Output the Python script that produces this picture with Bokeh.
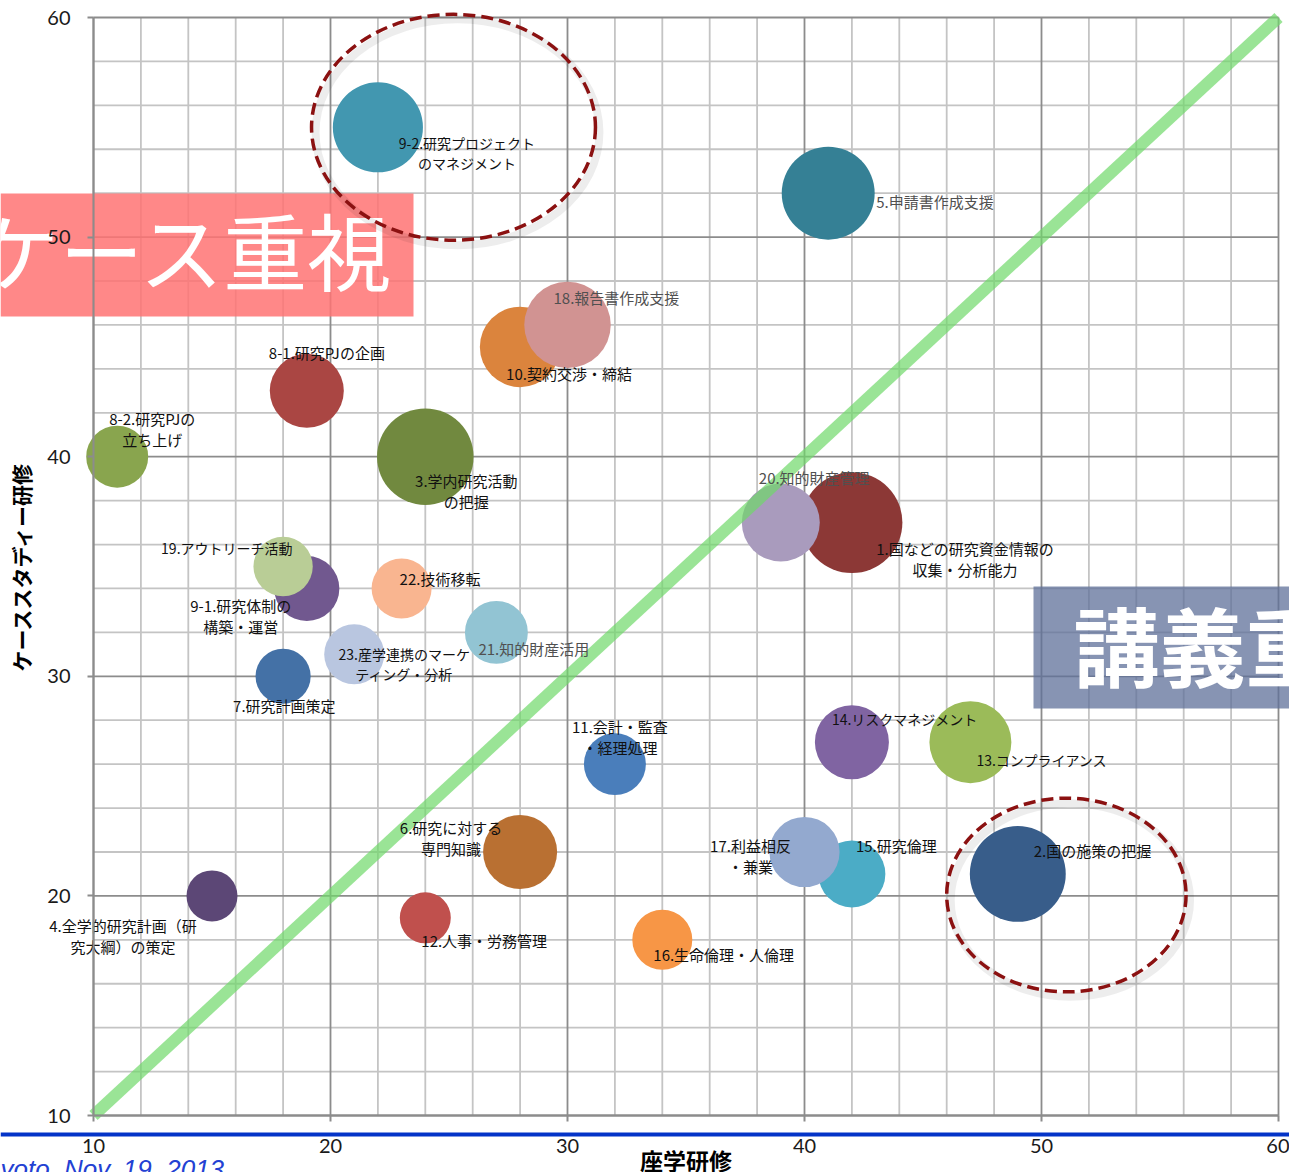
import math
from bokeh.plotting import figure
from bokeh.models import SingleIntervalTicker, ColumnDataSource, Range1d, LinearAxis
from bokeh.core.properties import value
from bokeh.embed import file_html
from bokeh.resources import INLINE

# ---------------- data ----------------
items = ["1", "2", "3", "4", "5", "6", "7", "8-1", "8-2", "9-1", "9-2", "10", "11",
         "12", "13", "14", "15", "16", "17", "18", "19", "20", "21", "22", "23"]
names = [
    "1.国などの研究資金情報の\n収集・分析能力",
    "2.国の施策の把握",
    "3.学内研究活動\nの把握",
    "4.全学的研究計画（研\n究大綱）の策定",
    "5.申請書作成支援",
    "6.研究に対する\n専門知識",
    "7.研究計画策定",
    "8-1.研究PJの企画",
    "8-2.研究PJの\n立ち上げ",
    "9-1.研究体制の\n構築・運営",
    "9-2.研究プロジェクト\nのマネジメント",
    "10.契約交渉・締結",
    "11.会計・監査\n・経理処理",
    "12.人事・労務管理",
    "13.コンプライアンス",
    "14.リスクマネジメント",
    "15.研究倫理",
    "16.生命倫理・人倫理",
    "17.利益相反\n・兼業",
    "18.報告書作成支援",
    "19.アウトリーチ活動",
    "20.知的財産管理",
    "21.知的財産活用",
    "22.技術移転",
    "23.産学連携のマーケ\nティング・分析",
]
lecture = [42, 49, 24, 15, 41, 28, 18, 19, 11, 19, 22, 28, 32, 24, 47, 42, 42, 34, 40, 30, 18, 39, 27, 23, 21]
case_study = [37, 21, 40, 20, 52, 22, 30, 43, 40, 34, 55, 45, 26, 19, 27, 27, 21, 18, 22, 46, 35, 37, 32, 34, 31]
bubble = [25.5, 23, 23.3, 6.5, 21.6, 13.7, 7.6, 13.7, 9.6, 10.6, 20.3, 16.2, 9.6,
          6.5, 16.8, 13.7, 11.2, 9.0, 12.3, 18.7, 8.8, 15.2, 9.9, 9.0, 9.0]

x_title = "座学研修"
y_title = "ケーススタディー研修"
x_ticks_every = 10
y_ticks_every = 10
minor_every = 2
x_lim = (10, 60)
y_lim = (10, 60)
case_text = "ケース重視"
lecture_text = "講義重視"
footer_text = "yoto, Nov. 19, 2013"
circled = ["9-2", "2"]

# ---------------- style ----------------
colors = ["#8c3836", "#385d8a", "#71893f", "#5c4776", "#358095", "#b97032", "#4471a6",
          "#aa4643", "#89a54e", "#71588f", "#4297b0", "#db843d", "#4a7ebb", "#c0504d",
          "#9bbb59", "#8064a2", "#4bacc6", "#f79646", "#93a9cf", "#d19392", "#b9cd96",
          "#a99bbd", "#92c4d3", "#f9b590", "#b9c6e0"]
BUBBLE_SCALE = 20.0  # px of diameter per sqrt(size)

# label placement (align, dx px, dy px, colour, font px)
label_style = {
    "1": ("center", 113, 36, "#111111", 15),
    "2": ("left", 16, -23, "#111111", 15),
    "3": ("center", 41, 34, "#111111", 15),
    "4": ("center", -89, 40, "#111111", 15),
    "5": ("left", 48, 8, "#505050", 15),
    "6": ("center", -69, -14, "#111111", 15),
    "7": ("left", -50, 29, "#111111", 15),
    "8-1": ("left", -38, -38, "#111111", 15),
    "8-2": ("center", 35, -28, "#111111", 15),
    "9-1": ("center", -66, 28, "#111111", 15),
    "9-2": ("center", 89, 26, "#111111", 14),
    "10": ("left", -14, 27, "#111111", 15),
    "11": ("center", 5, -27, "#111111", 15),
    "12": ("left", -4, 23, "#111111", 15),
    "13": ("left", 6, 18, "#111111", 14),
    "14": ("left", -20, -23, "#111111", 14),
    "15": ("left", 4, -28, "#111111", 15),
    "16": ("left", -9, 15, "#111111", 15),
    "17": ("center", -54, 4, "#111111", 15),
    "18": ("left", -14, -27, "#505050", 15),
    "19": ("left", -122, -19, "#111111", 14),
    "20": ("left", -22, -45, "#505050", 15),
    "21": ("left", -18, 16, "#505050", 15),
    "22": ("left", -2, -10, "#111111", 15),
    "23": ("center", 50, 10, "#111111", 14),
}
# highlight ellipse offsets from its bubble (data units) and size
ellipse_style = {
    "9-2": (3.19, 0.0, 11.98, 10.29),
    "2": (2.05, -0.96, 10.1, 8.82),
}

JP = "Noto Sans CJK JP"
W, H = 1289, 1172
PX_L, PX_R, PX_T, PX_B = 93, 1278, 17, 1115   # where the axis limits fall on the canvas
sx = (x_lim[1] - x_lim[0]) / (PX_R - PX_L)
sy = (y_lim[1] - y_lim[0]) / (PX_B - PX_T)


def dxp(px):  # canvas px -> data x
    return x_lim[0] + (px - PX_L) * sx


def dyp(py):  # canvas px -> data y
    return y_lim[1] - (py - PX_T) * sy


p = figure(width=W, height=H,
           x_range=Range1d(dxp(0), dxp(W)), y_range=Range1d(dyp(H), dyp(0)),
           x_axis_type=None, y_axis_type=None,
           output_backend="svg", toolbar_location=None,
           min_border=0, min_border_left=0, min_border_right=0,
           min_border_top=0, min_border_bottom=0,
           background_fill_color="white", border_fill_color="white",
           outline_line_color=None)

# ---- grid (minor every 2, major every 10) ----
gx = list(range(x_lim[0], x_lim[1] + 1, minor_every))
gy = list(range(y_lim[0], y_lim[1] + 1, minor_every))
minx = [v for v in gx if v % x_ticks_every]
majx = [v for v in gx if not v % x_ticks_every]
miny = [v for v in gy if v % y_ticks_every]
majy = [v for v in gy if not v % y_ticks_every]
for xs_, ys_, col in ((minx, miny, "#c4c4c4"), (majx, majy, "#8c8c8c")):
    p.segment(x0=xs_, x1=xs_, y0=[y_lim[0]] * len(xs_), y1=[y_lim[1]] * len(xs_),
              line_color=col, line_width=1.8)
    p.segment(x0=[x_lim[0]] * len(ys_), x1=[x_lim[1]] * len(ys_), y0=ys_, y1=ys_,
              line_color=col, line_width=1.8)

# ---- axes drawn at the data limits ----
xaxis = LinearAxis(ticker=SingleIntervalTicker(interval=x_ticks_every, num_minor_ticks=5),
                   bounds=x_lim, fixed_location=y_lim[0])
yaxis = LinearAxis(ticker=SingleIntervalTicker(interval=y_ticks_every, num_minor_ticks=5),
                   bounds=y_lim, fixed_location=x_lim[0])
p.add_layout(xaxis, "below")
p.add_layout(yaxis, "left")
for ax in (xaxis, yaxis):
    ax.axis_line_color = "#8c8c8c"
    ax.axis_line_width = 2
    ax.major_tick_line_color = "#8c8c8c"
    ax.major_tick_line_width = 2
    ax.major_tick_out = 6
    ax.major_tick_in = 0
    ax.minor_tick_out = 0
    ax.minor_tick_in = 0
    ax.major_label_text_font = "Lato"
    ax.major_label_text_font_size = "20px"
    ax.major_label_text_color = "#1a1a1a"
    ax.axis_label_text_font = JP
    ax.axis_label_text_font_style = "bold"
    ax.axis_label_text_color = "#000000"
xaxis.axis_label = x_title
xaxis.axis_label_text_font_size = "23px"
xaxis.major_label_standoff = 17
xaxis.axis_label_standoff = -13
yaxis.axis_label = y_title
yaxis.axis_label_text_font_size = "21px"
yaxis.major_label_standoff = 17
yaxis.axis_label_standoff = 8

# ---- slide decoration boxes ----
p.quad(left=[dxp(0)], right=[dxp(413)], top=[dyp(193)], bottom=[dyp(316)],
       fill_color="#ff7373", fill_alpha=0.85, line_alpha=0)
p.quad(left=[dxp(1033)], right=[dxp(W)], top=[dyp(586)], bottom=[dyp(708)],
       fill_color="#5f7099", fill_alpha=0.75, line_alpha=0)
p.text(x=[dxp(-25)], y=[dyp(248)], text=[case_text], text_color="white",
       text_font=value(JP), text_font_size="84px", text_align="left", text_baseline="middle")
p.text(x=[dxp(1073)], y=[dyp(643)], text=[lecture_text], text_color="white",
       text_font=value(JP), text_font_size="86px", text_font_style="bold",
       text_align="left", text_baseline="middle")

# ---- bubbles ----
src = ColumnDataSource(dict(
    x=lecture, y=case_study,
    d=[BUBBLE_SCALE * math.sqrt(s) for s in bubble],
    c=colors,
))
p.scatter("x", "y", size="d", fill_color="c", line_color=None, source=src)

# diagonal reference line (equal weight)
p.line(list(x_lim), list(y_lim), line_color="#6fd86a", line_alpha=0.7, line_width=12)

# ---- highlight ellipses ----
ex, ey, ew, eh = [], [], [], []
for key in circled:
    i = items.index(key)
    ox, oy, w, h = ellipse_style[key]
    ex.append(lecture[i] + ox)
    ey.append(case_study[i] + oy)
    ew.append(w)
    eh.append(h)
p.ellipse([v + 4 * sx for v in ex], [v - 5 * sy for v in ey], ew, eh,
          fill_color=None, line_color="#000000", line_alpha=0.07, line_width=8)
p.ellipse(ex, ey, ew, eh, fill_color=None, line_color="#8b1111", line_width=3.5,
          line_dash="12 6")

# ---- bubble labels ----
for align in ("left", "center"):
    lx, ly, lt, ox_, oy_, lc, fs = [], [], [], [], [], [], []
    for i, key in enumerate(items):
        a, ddx, ddy, col, size_px = label_style[key]
        if a != align:
            continue
        lx.append(lecture[i])
        ly.append(case_study[i])
        lt.append(names[i])
        ox_.append(ddx)
        oy_.append(ddy)
        lc.append(col)
        fs.append(f"{size_px}px")
    lsrc = ColumnDataSource(dict(x=lx, y=ly, t=lt, ox=ox_, oy=oy_, c=lc, fs=fs))
    p.text(x="x", y="y", text="t", x_offset="ox", y_offset="oy", text_color="c",
           text_font_size="fs", text_align=align, text_baseline="middle",
           text_font=value(JP), text_line_height=1.0, source=lsrc)

# ---- slide footer ----
p.quad(left=[dxp(0)], right=[dxp(W)], top=[dyp(1132)], bottom=[dyp(1136)],
       fill_color="#0434c8", line_alpha=0)
p.text(x=[dxp(0)], y=[dyp(1153)], text=[footer_text], text_color="#2341d3",
       text_font=value("Liberation Sans"), text_font_size="26px", text_font_style="italic",
       text_align="left", text_baseline="top")

open("out.html", "w").write(file_html(p, INLINE))
